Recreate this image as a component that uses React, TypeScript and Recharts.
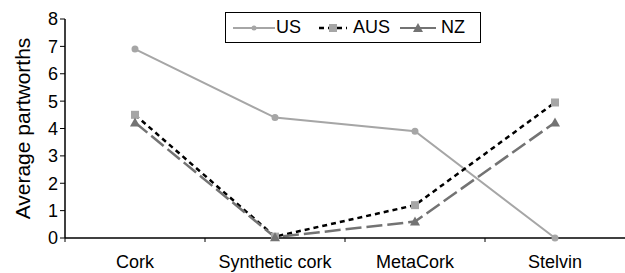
import React from 'react';
import { LineChart, Line, XAxis, YAxis } from 'recharts';

const categories = ['Cork', 'Synthetic cork', 'MetaCork', 'Stelvin'];
const usValues = [6.9, 4.4, 3.9, 0];
const ausValues = [4.5, 0.05, 1.2, 4.95];
const nzValues = [4.22, 0.03, 0.6, 4.22];
const yTicks = [0, 1, 2, 3, 4, 5, 6, 7, 8];

const data = categories.map((name, i) => ({
  x: i + 0.5,
  name,
  US: usValues[i],
  AUS: ausValues[i],
  NZ: nzValues[i],
}));

const FONT = '"Liberation Sans", Arial, sans-serif';
const HALF_BAND = 70;

const SquareDot = (props: any) => {
  const { cx, cy } = props;
  if (cx == null || cy == null) return null;
  return <rect key={`sq-${cx}`} x={cx - 4} y={cy - 4} width={8} height={8} fill="#a6a6a6" />;
};

const TriangleDot = (props: any) => {
  const { cx, cy } = props;
  if (cx == null || cy == null) return null;
  return (
    <path
      key={`tr-${cx}`}
      d={`M${cx},${cy - 5} L${cx + 5},${cy + 4} L${cx - 5},${cy + 4} Z`}
      fill="#737373"
    />
  );
};

const CategoryTick = (props: any) => {
  const { x, y, payload } = props;
  const label = categories[Math.round(payload.value - 0.5)];
  return (
    <g>
      <line x1={x - HALF_BAND} y1={y - 8} x2={x - HALF_BAND} y2={y - 4} stroke="#000" />
      <text x={x} y={y + 22} textAnchor="middle" fontSize={18} fontFamily={FONT} fill="#000">
        {label}
      </text>
    </g>
  );
};

const YTitle = (props: any) => {
  const { viewBox } = props;
  const cy = viewBox.y + viewBox.height / 2;
  return (
    <text
      x={22}
      y={cy}
      transform={`rotate(-90, 22, ${cy})`}
      textAnchor="middle"
      dominantBaseline="central"
      fontSize={21}
      fontFamily={FONT}
      fill="#000"
    >
      Average partworths
    </text>
  );
};

const LegendBox = () => (
  <div
    style={{
      position: 'absolute',
      left: 225,
      top: 12,
      width: 256,
      height: 31,
      border: '1px solid #000',
      background: '#fff',
      display: 'flex',
      alignItems: 'center',
      fontFamily: FONT,
      fontSize: 18,
      color: '#000',
      boxSizing: 'border-box',
      paddingLeft: 7,
    }}
  >
    <svg width={42} height={12}>
      <line x1={0} y1={6} x2={42} y2={6} stroke="#a6a6a6" strokeWidth={2} />
      <circle cx={21} cy={6} r={2.5} fill="#a6a6a6" />
    </svg>
    <span style={{ marginLeft: 1 }}>US</span>
    <svg width={28} height={12} style={{ marginLeft: 18 }}>
      <line x1={0} y1={6} x2={28} y2={6} stroke="#000" strokeWidth={2.5} strokeDasharray="5 4" />
      <rect x={10} y={2} width={8} height={8} fill="#a6a6a6" />
    </svg>
    <span style={{ marginLeft: 6 }}>AUS</span>
    <svg width={36} height={12} style={{ marginLeft: 10 }}>
      <line x1={0} y1={6} x2={36} y2={6} stroke="#737373" strokeWidth={2} strokeDasharray="16 4" />
      <path d="M18,1 L23,10 L13,10 Z" fill="#737373" />
    </svg>
    <span style={{ marginLeft: 5 }}>NZ</span>
  </div>
);

export default function App() {
  return (
    <div style={{ position: 'absolute', left: 0, top: 0, width: 625, height: 273, background: '#fff' }}>
      <LineChart width={625} height={273} data={data} margin={{ top: 19, right: 0, bottom: 0, left: 0 }}>
        <XAxis
          dataKey="x"
          type="number"
          domain={[0, 4]}
          ticks={[0.5, 1.5, 2.5, 3.5]}
          tick={<CategoryTick />}
          tickLine={false}
          axisLine={{ stroke: '#000', strokeWidth: 1.5 }}
          height={35}
          interval={0}
        />
        <YAxis
          domain={[0, 8]}
          ticks={yTicks}
          interval={0}
          width={65}
          tickSize={5}
          tickLine={{ stroke: '#000' }}
          axisLine={{ stroke: '#000', strokeWidth: 1.5 }}
          tick={{ fontSize: 18, fontFamily: FONT, fill: '#000' }}
          label={<YTitle />}
        />
        <Line
          dataKey="US"
          stroke="#a6a6a6"
          strokeWidth={2}
          dot={{ r: 2.5, fill: '#a6a6a6', stroke: '#a6a6a6' }}
          isAnimationActive={false}
        />
        <Line
          dataKey="AUS"
          stroke="#000"
          strokeWidth={2.5}
          strokeDasharray="5 4"
          dot={<SquareDot />}
          isAnimationActive={false}
        />
        <Line
          dataKey="NZ"
          stroke="#737373"
          strokeWidth={2.5}
          strokeDasharray="16 5"
          dot={<TriangleDot />}
          isAnimationActive={false}
        />
      </LineChart>
      <LegendBox />
    </div>
  );
}
